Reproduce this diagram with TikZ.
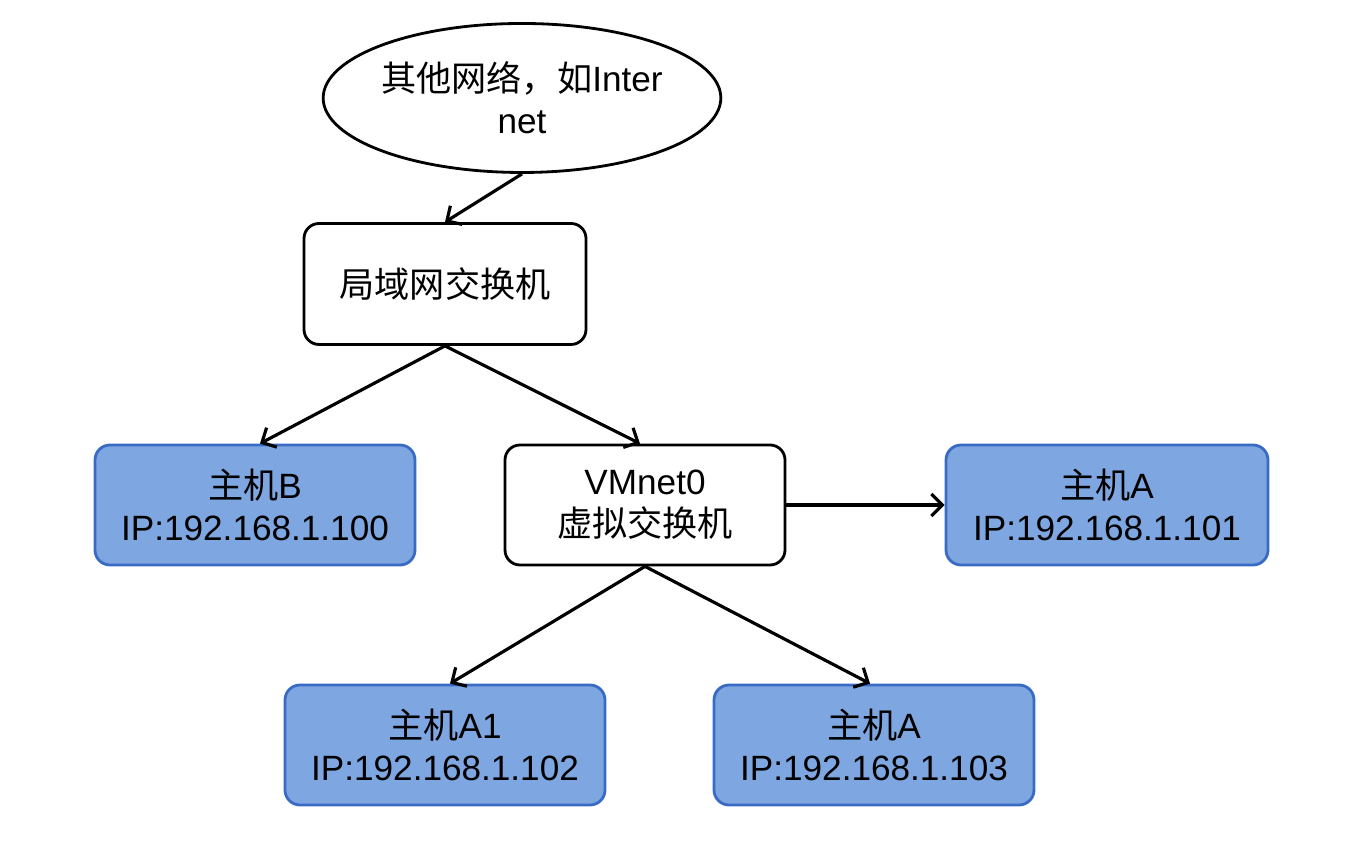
\documentclass[tikz,border=0pt]{standalone}
\usepackage{fontspec}
\setmainfont{Liberation Sans}
\newfontfamily\cjk{Noto Sans CJK SC}
\usepackage{tikz}
\usetikzlibrary{arrows.meta,shapes.geometric}
\definecolor{hostfill}{HTML}{7EA6E0}
\definecolor{hostline}{HTML}{3A6BC4}

\begin{document}
\begin{tikzpicture}[
    font=\fontsize{10pt}{12pt}\selectfont,
    switchbox/.style={draw, line width=0.8pt, rounded corners=0.15cm, align=center,
      inner sep=0pt, minimum width=2.8cm, minimum height=1.2cm},
    hostbox/.style={switchbox, draw=hostline, fill=hostfill, minimum width=3.2cm},
    link/.style={line width=0.9pt, -{Straight Barb[length=1.1mm, width=2.2mm]}}]
      \useasboundingbox (0, 0) rectangle (13.52, 8.64);
      \node[ellipse, draw, line width=0.8pt, inner sep=0pt, minimum width=3.21cm,
        minimum height=1.49cm, align=center] (net) at (5.22, 7.66)
        {{\cjk 其他网络，如}Inter\\net};
      \node[switchbox, minimum width=2.82cm, minimum height=1.21cm] (lan) at (4.45, 5.80)
        {\cjk 局域网交换机};
      \node[hostbox] (hostB) at (2.55, 3.59) {{\cjk 主机}B\\IP:192.168.1.100};
      \node[switchbox] (vmnet) at (6.45, 3.59) {VMnet0\\{\cjk 虚拟交换机}};
      \node[hostbox, minimum width=3.22cm] (hostA) at (11.07, 3.59)
        {{\cjk 主机}A\\IP:192.168.1.101};
      \node[hostbox] (hostAone) at (4.45, 1.19) {{\cjk 主机}A1\\IP:192.168.1.102};
      \node[hostbox] (hostAthree) at (8.74, 1.19) {{\cjk 主机}A\\IP:192.168.1.103};
      \draw[link] (net.south) -- (lan.north);
      \draw[link] (lan.south) -- ([xshift=0.05cm]hostB.north);
      \draw[link] (lan.south) -- ([xshift=-0.05cm]vmnet.north);
      \draw[link] (vmnet.east) -- (hostA.west);
      \draw[link] (vmnet.south) -- ([xshift=0.05cm]hostAone.north);
      \draw[link] (vmnet.south) -- ([xshift=-0.04cm]hostAthree.north);
    \end{tikzpicture}
\end{document}
